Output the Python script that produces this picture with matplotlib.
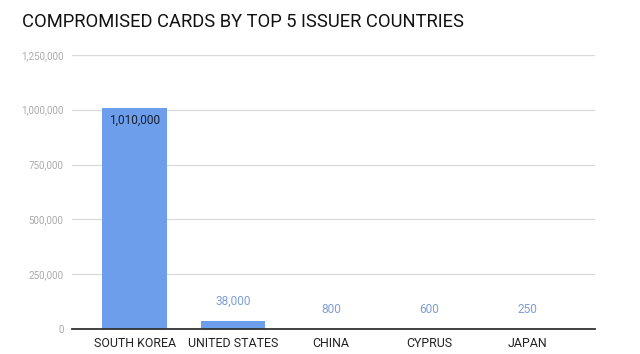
import matplotlib
matplotlib.use("Agg")
import matplotlib.pyplot as plt
from matplotlib.ticker import FuncFormatter

categories = ["SOUTH KOREA", "UNITED STATES", "CHINA", "CYPRUS", "JAPAN"]
values = [1010000, 38000, 800, 600, 250]
value_labels = ["1,010,000", "38,000", "800", "600", "250"]
yticks = [0, 250000, 500000, 750000, 1000000, 1250000]

plt.rcParams['font.family'] = ['Roboto', 'DejaVu Sans']

fig = plt.figure(figsize=(6.4, 3.54), dpi=100)
ax = fig.add_axes([0.1125, 0.0706, 0.8175, 0.7744])

x = list(range(len(categories)))
ax.bar(x, values, width=0.66, color="#6d9eeb", zorder=3)

ax.set_xlim(-0.64, 4.69)
ax.set_ylim(0, 1250000)
ax.set_yticks(yticks)
ax.yaxis.set_major_formatter(FuncFormatter(lambda v, p: f"{int(v):,}"))
ax.grid(axis='y', color="#d9d9d9", linewidth=0.9, zorder=0)
ax.set_axisbelow(True)

for s in ['top', 'right', 'left']:
    ax.spines[s].set_visible(False)
ax.spines['bottom'].set_color("#333333")
ax.spines['bottom'].set_linewidth(1.3)
ax.spines['bottom'].set_zorder(4)

ax.set_xticks(x)
ax.set_xticklabels(categories, fontsize=8.9, color="#222222")
ax.tick_params(axis='x', length=0, pad=6)
ax.tick_params(axis='y', length=0, pad=6, labelsize=7.1, labelcolor="#aaaaaa")

for i, (v, lab) in enumerate(zip(values, value_labels)):
    if v > 500000:
        ax.annotate(lab, (i, v), xytext=(0, -9.5), textcoords='offset points',
                    ha='center', va='center', fontsize=8.6, color="#1a1f2e", zorder=5)
    else:
        ax.annotate(lab, (i, v), xytext=(0, 14), textcoords='offset points',
                    ha='center', va='center', fontsize=8.6, color="#7d9fd6", zorder=5)

fig.text(22/640, 1 - 22/354, "COMPROMISED CARDS BY TOP 5 ISSUER COUNTRIES",
         fontsize=13.2, color="#111111", ha='left', va='center')

fig.savefig("out.png", dpi=100, facecolor="white")
